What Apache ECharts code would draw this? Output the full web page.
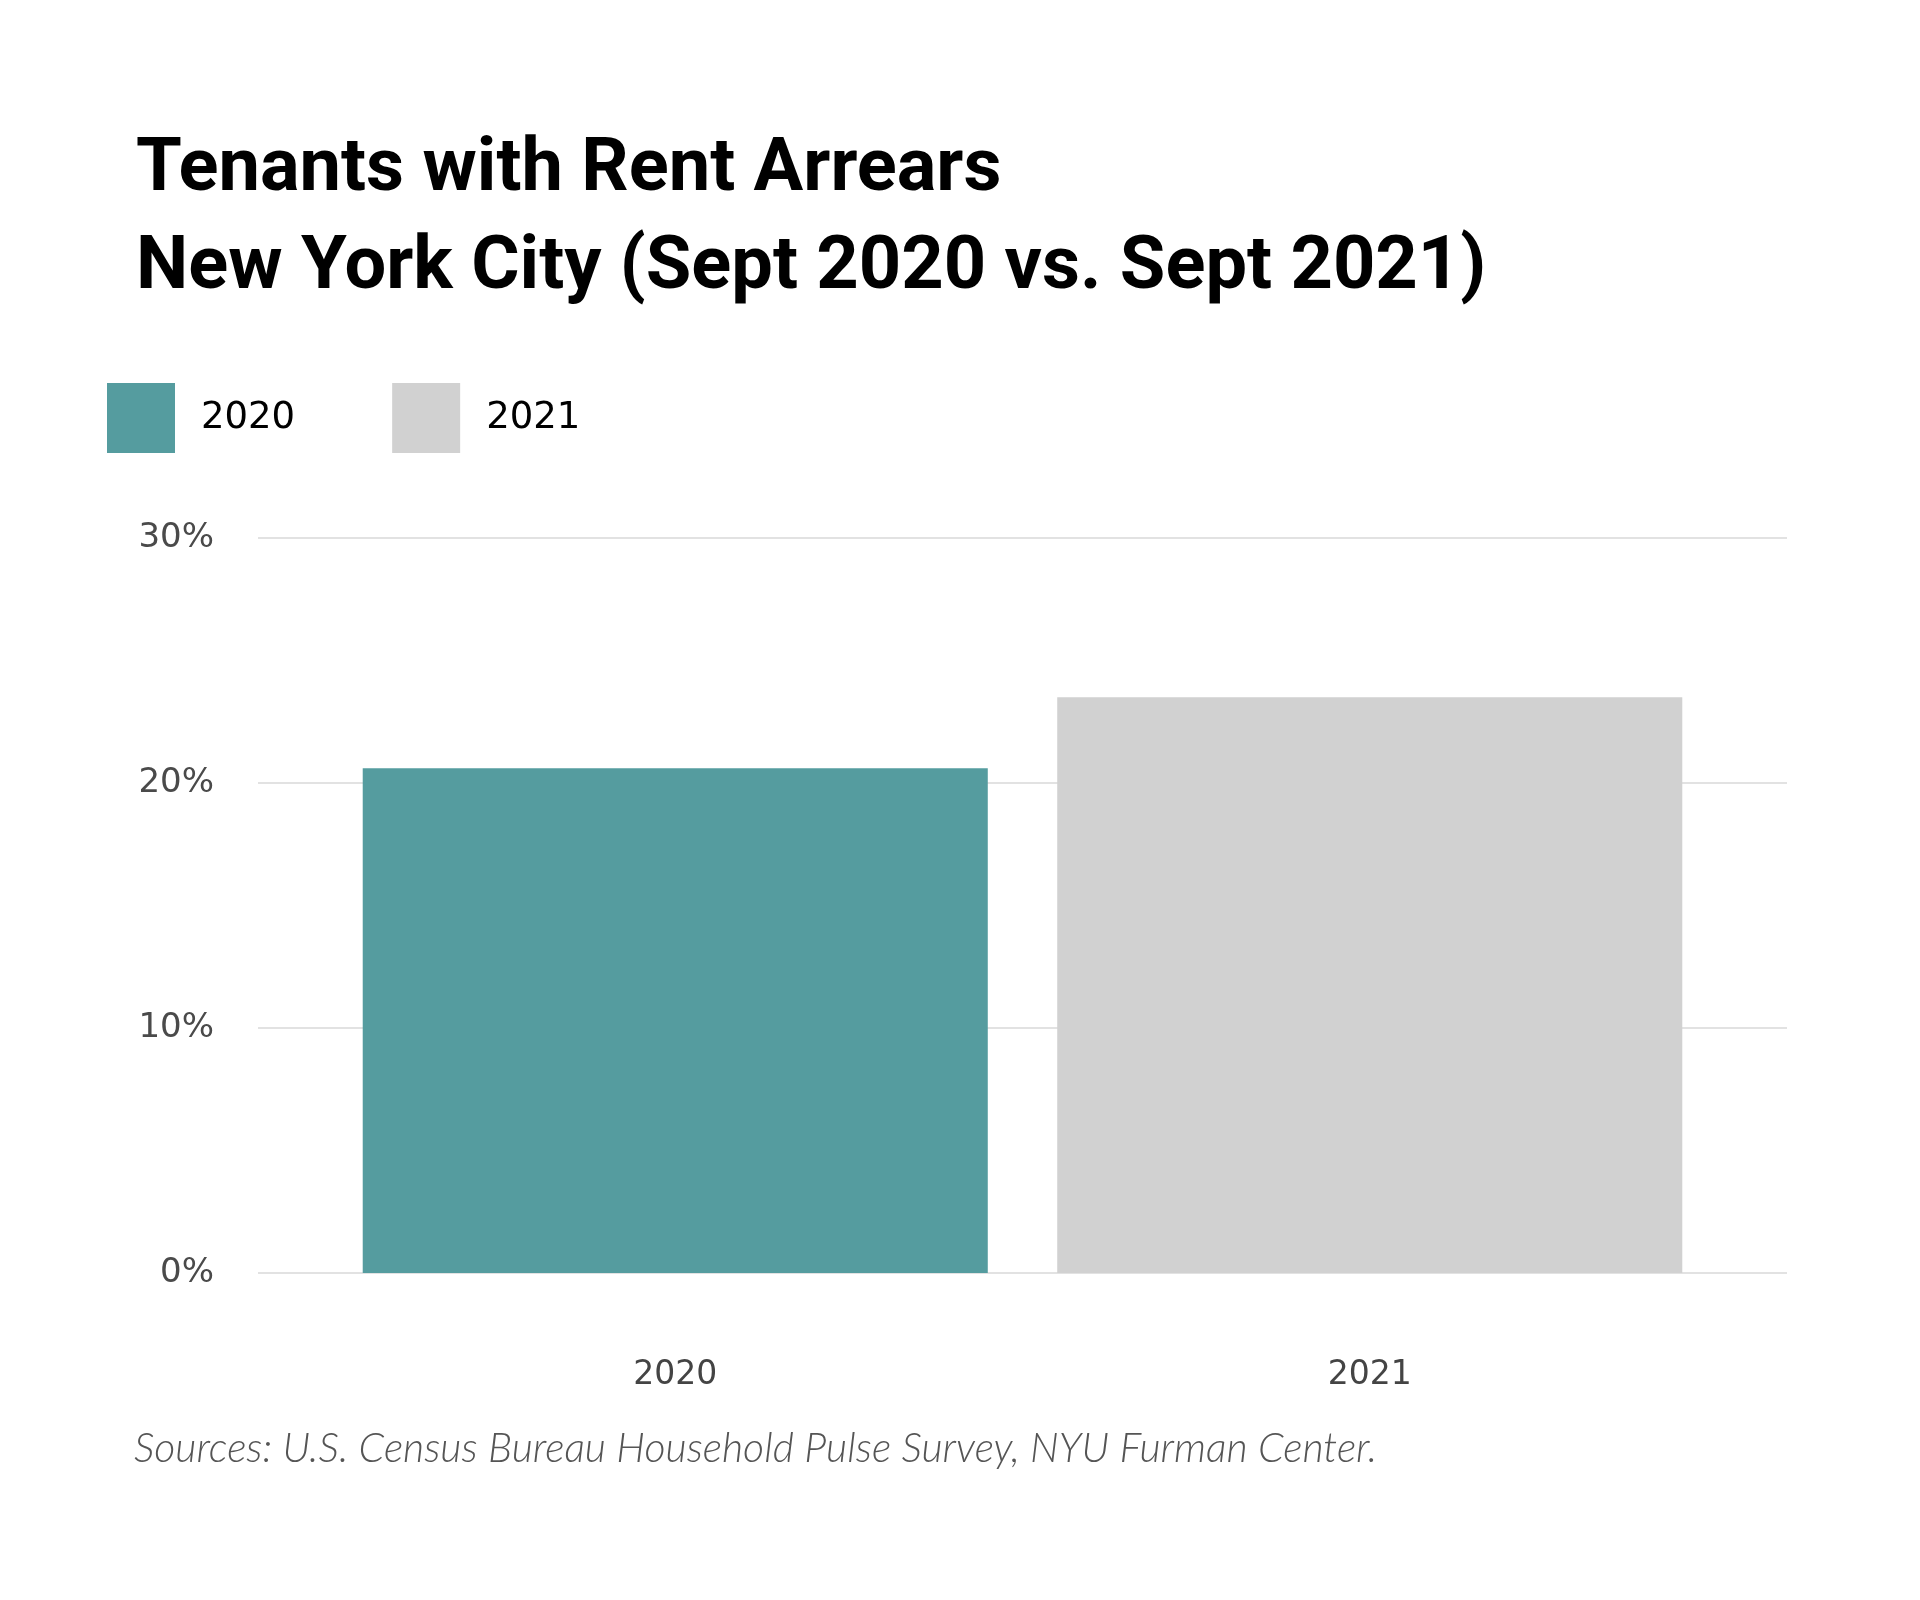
<!DOCTYPE html>
<html>
<head>
<meta charset="utf-8">
<script src="https://cdn.jsdelivr.net/npm/echarts@6/dist/echarts.min.js"></script>
<style>
  html, body { margin: 0; padding: 0; background: #fff; }
  #chart { width: 1920px; height: 1600px; }
</style>
</head>
<body>
<div id="chart"></div>
<script>
var categories = ['2020', '2021'];
var seriesNames = ['2020', '2021'];
var arrears2020 = [20.6, '-'];
var arrears2021 = ['-', 23.5];
var yTicks = [0, 10, 20, 30];

var dom = document.getElementById('chart');
var myChart = echarts.init(dom);
var option = {
    backgroundColor: '#ffffff',
    textStyle: { fontFamily: 'DejaVu Sans' },
    title: {
        text: 'Tenants with Rent Arrears\nNew York City (Sept 2020 vs. Sept 2021)',
        left: 131,
        top: 117,
        textStyle: {
            fontFamily: 'Roboto',
            fontWeight: 'bold',
            fontSize: 74,
            lineHeight: 98,
            color: '#000'
        }
    },
    legend: {
        data: seriesNames,
        left: 102,
        top: 378,
        icon: 'rect',
        itemWidth: 68,
        itemHeight: 70,
        itemGap: 97,
        textStyle: { fontSize: 37, color: '#000', padding: [12, 0, 0, 21] }
    },
    grid: [
        // wide grid: only for the split lines and y labels
        { left: 258, right: 133, top: 538, bottom: 327, containLabel: false },
        // narrower plot area for the bars
        { left: 328, right: 203, top: 538, bottom: 327, containLabel: false }
    ],
    xAxis: [
        { type: 'category', gridIndex: 0, data: categories, show: false },
        {
            type: 'category', gridIndex: 1, data: categories,
            axisLine: { show: false }, axisTick: { show: false },
            axisLabel: { margin: 86, fontSize: 33, color: '#444' }
        }
    ],
    yAxis: [
        {
            type: 'value', gridIndex: 0, min: 0, max: 30, interval: 10,
            axisLine: { show: false }, axisTick: { show: false },
            axisLabel: {
                margin: 44, fontSize: 34, color: '#4a4a4a',
                formatter: function (v) { return yTicks.indexOf(v) >= 0 ? v + '%' : ''; }
            },
            splitLine: { lineStyle: { color: '#d9d9d9', width: 1.5 } }
        },
        {
            type: 'value', gridIndex: 1, min: 0, max: 30, interval: 10,
            show: false, splitLine: { show: false }
        }
    ],
    series: [
        {
            name: '2020', type: 'bar', xAxisIndex: 1, yAxisIndex: 1,
            data: arrears2020, barWidth: '90%', barGap: '-100%',
            itemStyle: { color: '#559c9f' }
        },
        {
            name: '2021', type: 'bar', xAxisIndex: 1, yAxisIndex: 1,
            data: arrears2021, barWidth: '90%', barGap: '-100%',
            itemStyle: { color: '#d1d1d1' }
        }
    ],
    graphic: [
        {
            type: 'text', left: 134, top: 1428,
            style: {
                text: 'Sources: U.S. Census Bureau Household Pulse Survey, NYU Furman Center.',
                font: 'italic 300 41px Lato',
                fill: '#555'
            }
        }
    ]
};
myChart.setOption(option, true);
</script>
</body>
</html>
